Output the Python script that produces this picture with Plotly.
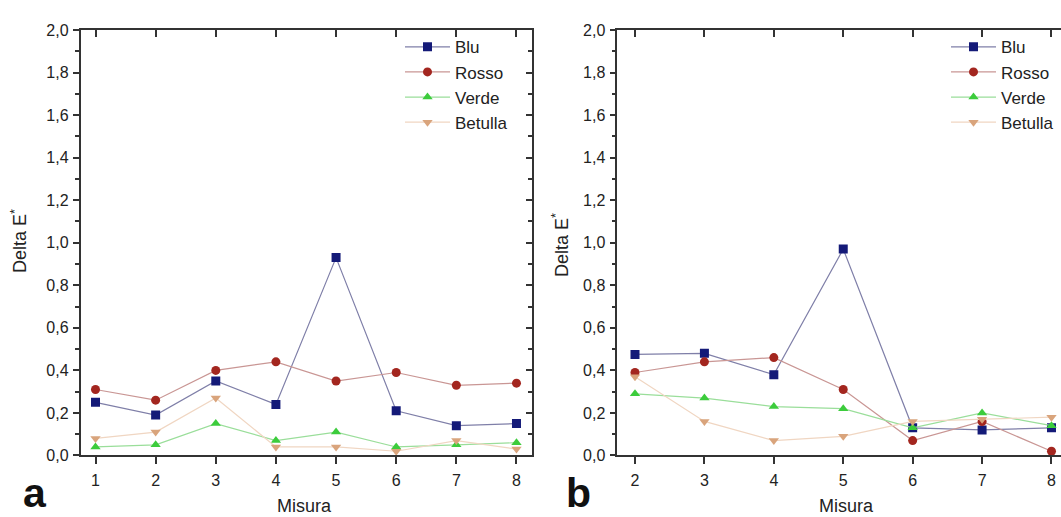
import plotly.graph_objects as go

W, H = 1061, 517

# Panel a: measurements 1-8
misura_a = [1, 2, 3, 4, 5, 6, 7, 8]
blu_a = [0.25, 0.19, 0.35, 0.24, 0.93, 0.21, 0.14, 0.15]
rosso_a = [0.31, 0.26, 0.40, 0.44, 0.35, 0.39, 0.33, 0.34]
verde_a = [0.04, 0.05, 0.15, 0.07, 0.11, 0.04, 0.05, 0.06]
betulla_a = [0.08, 0.11, 0.27, 0.04, 0.04, 0.02, 0.07, 0.03]

# Panel b: measurements 2-8
misura_b = [2, 3, 4, 5, 6, 7, 8]
blu_b = [0.475, 0.48, 0.38, 0.97, 0.13, 0.12, 0.13]
rosso_b = [0.39, 0.44, 0.46, 0.31, 0.07, 0.16, 0.02]
verde_b = [0.29, 0.27, 0.23, 0.22, 0.13, 0.20, 0.14]
betulla_b = [0.37, 0.16, 0.07, 0.09, 0.16, 0.17, 0.18]

names = ["Blu", "Rosso", "Verde", "Betulla"]
symbols = ["square", "circle", "triangle-up", "triangle-down"]
marker_colors = ["#141a78", "#a3261f", "#3ccc3c", "#d9a47c"]
line_colors = ["#7f7fa8", "#c99694", "#9ade9a", "#f0d6c2"]

y_ticks = [0, 0.2, 0.4, 0.6, 0.8, 1.0, 1.2, 1.4, 1.6, 1.8, 2.0]

FONT = "Liberation Sans, Arial, sans-serif"
AX = "#333333"
TXT = "#222222"


def px_x(v):
    return v / W


def px_y(v):
    return 1 - v / H


fig = go.Figure()

panels = [
    (misura_a, [blu_a, rosso_a, verde_a, betulla_a], "x", "y", "legend"),
    (misura_b, [blu_b, rosso_b, verde_b, betulla_b], "x2", "y2", "legend2"),
]
for xs, ys_list, xa, ya, leg in panels:
    for name, sym, mc, lc, ys in zip(names, symbols, marker_colors, line_colors, ys_list):
        fig.add_trace(go.Scatter(
            x=xs, y=ys, name=name, mode="lines+markers",
            xaxis=xa, yaxis=ya, legend=leg,
            line=dict(color=lc, width=1.2),
            marker=dict(symbol=sym, size=9, color=mc, line=dict(width=0)),
        ))

# invisible traces that attach the inner-tick frame axes
fig.add_trace(go.Scatter(x=[1], y=[0], xaxis="x3", yaxis="y3", mode="markers",
                         marker=dict(opacity=0), showlegend=False, hoverinfo="skip"))
fig.add_trace(go.Scatter(x=[2], y=[0], xaxis="x4", yaxis="y2", mode="markers",
                         marker=dict(opacity=0), showlegend=False, hoverinfo="skip"))

ydom = [px_y(462.7), px_y(22.7)]
xdom_a = [px_x(80.5), px_x(531.7)]
xdom_b = [px_x(617.3), 1.0]
xr_a = [0.7506, 8.253]
xr_b = [1.745, 8.137]

tickfont = dict(family=FONT, size=16, color=TXT)

xbase = dict(showline=True, linecolor=AX, linewidth=1.5, ticks="outside",
             ticklen=7, tickwidth=1.5, tickcolor=AX, showgrid=False,
             zeroline=False, tickfont=tickfont, ticklabelstandoff=3)
ybase = dict(showline=True, linecolor=AX, linewidth=1.5, ticks="outside",
             ticklen=6, tickwidth=1.5, tickcolor=AX, showgrid=False,
             zeroline=False, tickfont=tickfont, range=[0, 2],
             tickvals=y_ticks, tickformat=".1f", ticklabelstandoff=1,
             minor=dict(dtick=0.1, ticks="outside", ticklen=4, tickwidth=1.5,
                        tickcolor=AX, showgrid=False))

legfont = dict(family=FONT, size=17, color=TXT)

fig.update_layout(
    width=W, height=H, margin=dict(l=0, r=0, t=0, b=0),
    paper_bgcolor="white", plot_bgcolor="white",
    separators=",.",
    font=dict(family=FONT, color=TXT),
    xaxis=dict(xbase, domain=xdom_a, range=xr_a, tickvals=misura_a, anchor="y"),
    yaxis=dict(ybase, domain=ydom, anchor="x"),
    xaxis2=dict(xbase, domain=xdom_b, range=xr_b, tickvals=misura_b, anchor="y2"),
    yaxis2=dict(ybase, domain=ydom, anchor="x2"),
    # top and right frame with inward ticks
    xaxis3=dict(overlaying="x", side="top", anchor="y", range=xr_a, tickvals=misura_a,
                showline=True, linecolor=AX, linewidth=1.5, ticks="inside", ticklen=7,
                tickwidth=1.5, tickcolor=AX, showticklabels=False, showgrid=False,
                zeroline=False),
    yaxis3=dict(overlaying="y", side="right", anchor="x", range=[0, 2], tickvals=y_ticks,
                showline=True, linecolor=AX, linewidth=1.5, ticks="inside", ticklen=6,
                tickwidth=1.5, tickcolor=AX, showticklabels=False, showgrid=False,
                zeroline=False,
                minor=dict(dtick=0.1, ticks="inside", ticklen=4, tickwidth=1.5,
                           tickcolor=AX, showgrid=False)),
    xaxis4=dict(overlaying="x2", side="top", anchor="y2", range=xr_b, tickvals=misura_b,
                showline=True, linecolor=AX, linewidth=1.5, ticks="inside", ticklen=7,
                tickwidth=1.5, tickcolor=AX, showticklabels=False, showgrid=False,
                zeroline=False),
    legend=dict(x=px_x(400), y=px_y(22), xanchor="left", yanchor="top", itemwidth=45,
                bgcolor="rgba(0,0,0,0)", font=legfont),
    legend2=dict(x=px_x(946), y=px_y(22), xanchor="left", yanchor="top", itemwidth=45,
                 bgcolor="rgba(0,0,0,0)", font=legfont),
    showlegend=True,
)

annots = [
    dict(text="Misura", x=px_x(304), y=px_y(515), textangle=0),
    dict(text="Misura", x=px_x(846), y=px_y(515), textangle=0),
    dict(text="Delta E<sup>*</sup>", x=px_x(19), y=px_y(241), textangle=-90),
    dict(text="Delta E<sup>*</sup>", x=px_x(561), y=px_y(245), textangle=-90),
]
for a in annots:
    fig.add_annotation(text=a["text"], x=a["x"], y=a["y"], xref="paper", yref="paper",
                       showarrow=False, textangle=a["textangle"],
                       xanchor="center", yanchor="middle",
                       font=dict(family=FONT, size=18, color=TXT))

for letter, cx in [("a", 35), ("b", 578)]:
    fig.add_annotation(text="<b>%s</b>" % letter, x=px_x(cx), y=px_y(502),
                       xref="paper", yref="paper", showarrow=False,
                       xanchor="center", yanchor="middle",
                       font=dict(family=FONT, size=41, color="#111111"))

fig.write_html("out.html")
